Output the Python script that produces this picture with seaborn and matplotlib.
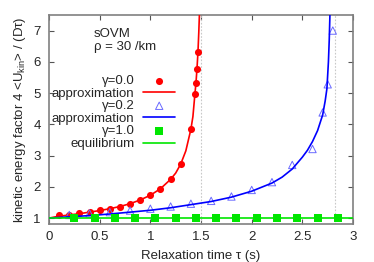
import numpy as np
import matplotlib
matplotlib.use("Agg")
import matplotlib.pyplot as plt
import seaborn as sns

# ---- data ----
tau_g00 = [0.1, 0.2, 0.3, 0.4, 0.5, 0.6, 0.7, 0.8, 0.9, 1.0, 1.1, 1.2, 1.3,
           1.4, 1.44, 1.45, 1.46, 1.47]
val_g00 = [1.09, 1.11, 1.15, 1.19, 1.25, 1.30, 1.36, 1.46, 1.59, 1.74, 1.94,
           2.25, 2.73, 3.84, 4.98, 5.32, 5.77, 6.32]

approx0_tau = [0.0, 0.1, 0.2, 0.3, 0.4, 0.5, 0.6, 0.7, 0.8, 0.9, 1.0, 1.1,
               1.2, 1.25, 1.3, 1.35, 1.4, 1.42, 1.44, 1.45, 1.46, 1.47,
               1.478, 1.484, 1.487]
approx0_val = [1.0, 1.06, 1.10, 1.14, 1.19, 1.24, 1.30, 1.37, 1.46, 1.58,
               1.73, 1.94, 2.24, 2.44, 2.73, 3.15, 3.84, 4.25, 4.98, 5.32,
               5.77, 6.32, 6.95, 7.5, 7.8]

tau_g02 = [0.2, 0.4, 0.6, 0.8, 1.0, 1.2, 1.4, 1.6, 1.8, 2.0, 2.2, 2.4, 2.6,
           2.7, 2.75, 2.8]
val_g02 = [1.10, 1.15, 1.19, 1.24, 1.30, 1.37, 1.46, 1.55, 1.69, 1.90, 2.15,
           2.70, 3.21, 4.38, 5.28, 7.0]

approx2_tau = [0.0, 0.2, 0.4, 0.6, 0.8, 1.0, 1.2, 1.4, 1.6, 1.8, 2.0, 2.2,
               2.3, 2.4, 2.5, 2.55, 2.6, 2.65, 2.7, 2.725, 2.742, 2.757,
               2.765, 2.771, 2.774]
approx2_val = [1.0, 1.04, 1.08, 1.13, 1.19, 1.25, 1.33, 1.43, 1.53, 1.67,
               1.86, 2.12, 2.31, 2.57, 2.95, 3.17, 3.45, 3.8, 4.3, 4.75,
               5.14, 6.0, 6.7, 7.4, 7.8]

tau_g10 = [0.25, 0.45, 0.65, 0.85, 1.05, 1.25, 1.45, 1.65, 1.85, 2.05, 2.25,
           2.45, 2.65, 2.85]
val_g10 = [1.0] * len(tau_g10)

eq_tau = [0.0, 3.0]
eq_val = [1.0, 1.0]

divergence_tau = [1.5, 2.82]

x_ticks = [0, 0.5, 1, 1.5, 2, 2.5, 3]
x_ticklabels = ["0", "0.5", "1", "1.5", "2", "2.5", "3"]
y_ticks = [1, 2, 3, 4, 5, 6, 7]

# ---- style ----
sns.set_style("ticks")
plt.rcParams["font.family"] = ["Liberation Sans", "DejaVu Sans"]
plt.rcParams["mathtext.fontset"] = "custom"
plt.rcParams["mathtext.rm"] = "Liberation Sans"
plt.rcParams["mathtext.it"] = "Liberation Sans:italic"
FS = 9.5

fig = plt.figure(figsize=(3.74, 2.62), dpi=100)
ax = fig.add_axes([0.131, 0.145, 0.813, 0.798])

RED = "#ff0000"
BLUE = "#0000ff"
TRI = "#6a6aff"
GREEN = "#00e600"

for t in divergence_tau:
    ax.axvline(t, color="#c8c8c8", lw=0.8, ls=(0, (1.5, 1.5)), zorder=1)

sns.scatterplot(x=tau_g00, y=val_g00, ax=ax, marker="o", s=26, color=RED,
                linewidth=0, zorder=3)
h_p0 = ax.collections[-1]
sns.lineplot(x=approx0_tau, y=approx0_val, ax=ax, color=RED, lw=1.2,
             sort=False, zorder=3)
h_l0 = ax.lines[-1]

sns.scatterplot(x=tau_g02, y=val_g02, ax=ax, marker="^", s=28,
                facecolors="none", edgecolor=TRI, linewidth=0.7, zorder=3)
h_p2 = ax.collections[-1]
h_p2.set_facecolor("none")
h_p2.set_edgecolor(TRI)
sns.lineplot(x=approx2_tau, y=approx2_val, ax=ax, color=BLUE, lw=1.2,
             sort=False, zorder=3)
h_l2 = ax.lines[-1]

sns.scatterplot(x=tau_g10, y=val_g10, ax=ax, marker="s", s=30, color=GREEN,
                linewidth=0, zorder=3)
h_p10 = ax.collections[-1]
sns.lineplot(x=eq_tau, y=eq_val, ax=ax, color=GREEN, lw=1.2, sort=False,
             zorder=3)
h_eq = ax.lines[-1]

ax.set_xlim(0, 3)
ax.set_ylim(0.81, 7.5)
ax.set_xticks(x_ticks)
ax.set_xticklabels(x_ticklabels)
ax.set_yticks(y_ticks)
ax.tick_params(direction="in", length=3.5, width=0.8, color="#555555",
               top=True, right=True, labelsize=FS, pad=5)
ax.tick_params(axis="y", pad=6)
for sp in ax.spines.values():
    sp.set_color("#808080")
    sp.set_linewidth(1.2)

ax.set_xlabel("Relaxation time τ (s)", fontsize=FS, labelpad=5)
ax.set_ylabel("kinetic energy factor 4 <U$_{\\mathrm{kin}}$> / (Dτ)",
              fontsize=FS, labelpad=4)

ax.text(0.148, 0.909, "sOVM", transform=ax.transAxes, fontsize=FS,
        ha="left", va="center")
ax.text(0.148, 0.847, "ρ = 30 /km", transform=ax.transAxes, fontsize=FS,
        ha="left", va="center")

handles = [h_p0, h_l0, h_p2, h_l2, h_p10, h_eq]
labels = ["γ=0.0", "approximation", "γ=0.2", "approximation", "γ=1.0",
          "equilibrium"]
if ax.get_legend() is not None:
    ax.get_legend().remove()
ax.legend(handles, labels, loc="upper right", bbox_to_anchor=(0.415, 0.714),
          frameon=False, markerfirst=False, fontsize=FS, handlelength=2.42,
          handletextpad=0.66, labelspacing=0.03, borderpad=0,
          borderaxespad=0, scatterpoints=1)

fig.savefig("out.png", dpi=100)
